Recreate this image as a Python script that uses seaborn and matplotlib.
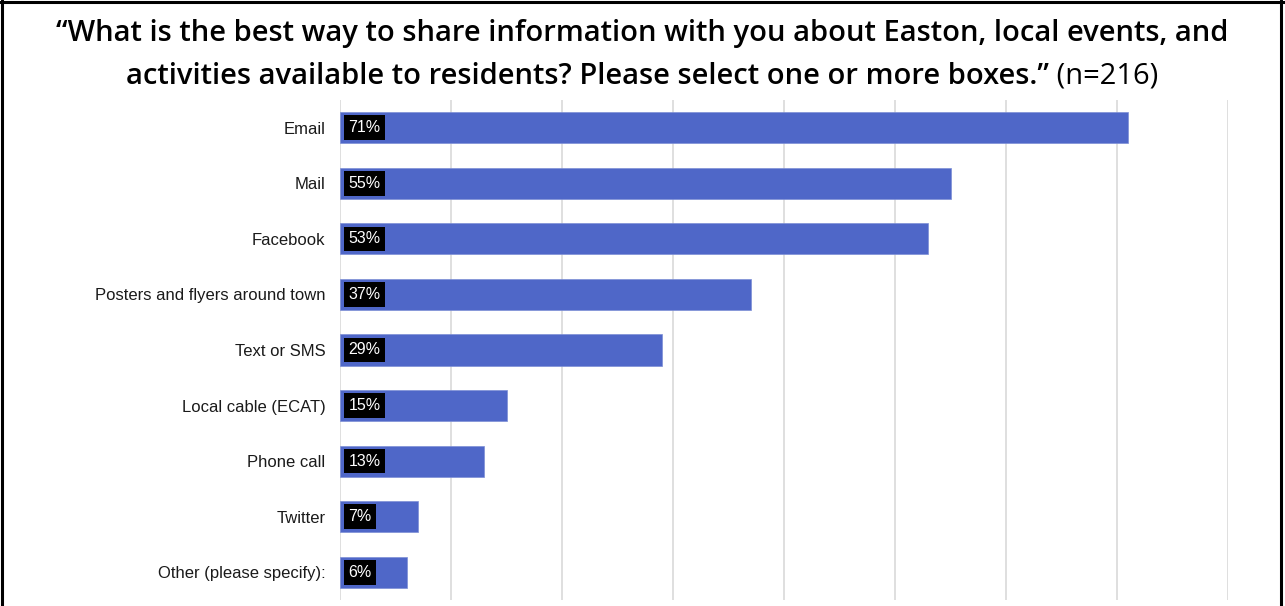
import matplotlib
matplotlib.use("Agg")
import matplotlib.pyplot as plt
from matplotlib.lines import Line2D
import seaborn as sns
import pandas as pd

# Survey responses (share of respondents, %)
channels = [
    "Email",
    "Mail",
    "Facebook",
    "Posters and flyers around town",
    "Text or SMS",
    "Local cable (ECAT)",
    "Phone call",
    "Twitter",
    "Other (please specify):",
]
shares = [71, 55, 53, 37, 29, 15, 13, 7, 6]
x_ticks = [0, 10, 20, 30, 40, 50, 60, 70, 80]

title_line1 = "\u201cWhat is the best way to share information with you about Easton, local events, and"
title_line2 = "activities available to residents? Please select one or more boxes.\u201d"
sample_note = " (n=216)"

sns.set_theme(style="white")
plt.rcParams["font.family"] = ["Liberation Sans", "DejaVu Sans"]

df = pd.DataFrame({"channel": channels, "share": shares})

fig = plt.figure(figsize=(12.85, 6.06), dpi=100)
ax = fig.add_axes([340 / 1285, 1 - 600 / 606, (1228 - 340) / 1285, 500 / 606])

sns.barplot(data=df, x="share", y="channel", orient="h", color="#4f67c8",
            saturation=1, width=0.56, edgecolor="#7d8fd6", linewidth=0.5, ax=ax)

ax.set_xlim(0, 80)
ax.set_ylim(len(channels) - 0.5, -0.5)
ax.set_xticks(x_ticks)
ax.set_xticklabels([])
ax.xaxis.grid(True, color="#d9d9d9", linewidth=1.2)
ax.set_axisbelow(True)
for side in ["top", "right", "bottom", "left"]:
    ax.spines[side].set_visible(False)
ax.set_xlabel("")
ax.set_ylabel("")
ax.tick_params(axis="y", length=0, pad=10.5, labelsize=12, labelcolor="#1a1a1a")
ax.tick_params(axis="x", length=0)

# Value labels in black boxes at the start of each bar
for i, v in enumerate(shares):
    ax.annotate(f"{v}%", xy=(0, i), xytext=(6, 0), textcoords="offset points",
                ha="left", va="center", color="white", fontsize=11.5,
                bbox=dict(boxstyle="square,pad=0.3", fc="black", ec="none"))

# Two-line title; the sample size is set in a lighter weight
title_font = ["Open Sans", "DejaVu Sans"]
title_size = 21
fig.text(0.5, 1 - 34 / 606, title_line1, ha="center", va="center",
         fontsize=title_size, fontweight="semibold", family=title_font, color="black")
t_main = fig.text(0, 1 - 76 / 606, title_line2, ha="left", va="center",
                  fontsize=title_size, fontweight="semibold", family=title_font, color="black")
t_note = fig.text(0, 1 - 76 / 606, sample_note, ha="left", va="center",
                  fontsize=title_size, fontweight="normal", family=title_font, color="black")
fig.canvas.draw()
renderer = fig.canvas.get_renderer()
w_main = t_main.get_window_extent(renderer).width
w_note = t_note.get_window_extent(renderer).width
W = fig.bbox.width
start = (W - (w_main + w_note)) / 2
t_main.set_x(start / W)
t_note.set_x((start + w_main) / W)

# Frame lines on the left, top and right edges
for xs, ys in [([0.0015, 0.0015], [0, 1]), ([0, 1], [0.9975, 0.9975]),
               ([1 - 4 / 1285, 1 - 4 / 1285], [0, 1])]:
    fig.add_artist(Line2D(xs, ys, transform=fig.transFigure, color="black", linewidth=2.2))

fig.savefig("out.png", dpi=100)
